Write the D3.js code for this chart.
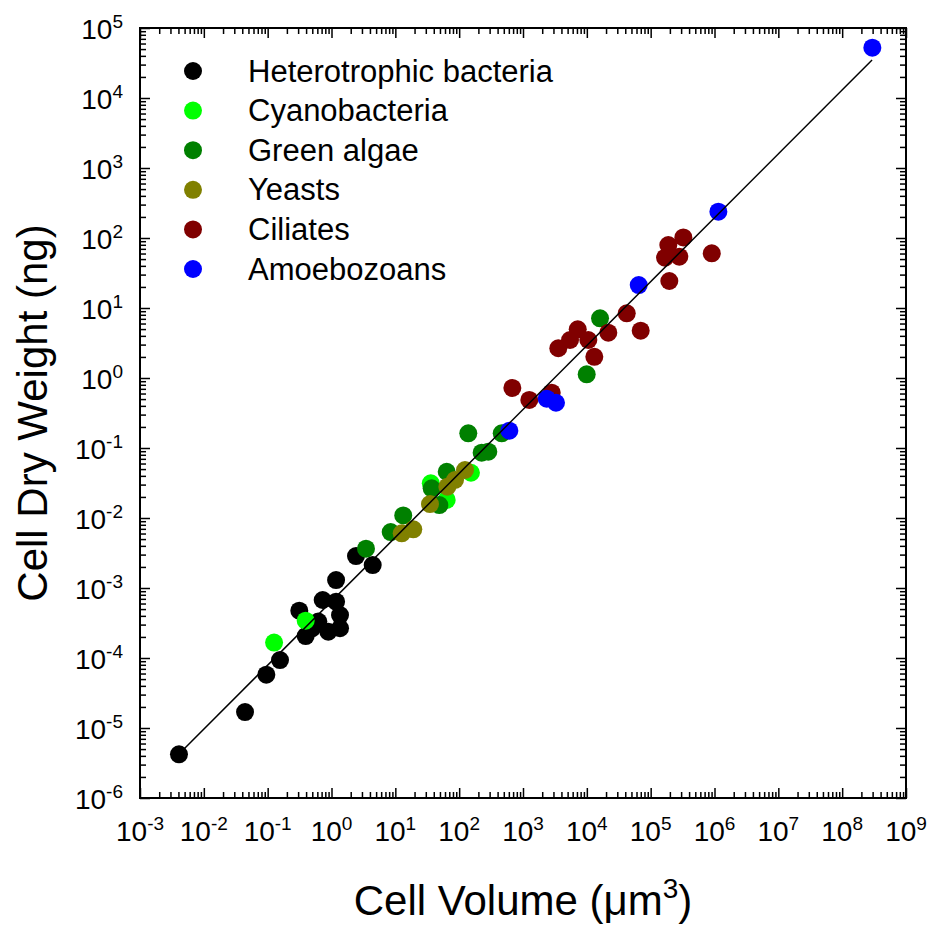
<!DOCTYPE html>
<head>
  <meta charset="utf-8">
  <style>
  body {
    margin: 0;
    background: #fff;
  }

  text {
    font-family: Arial, "Liberation Sans", sans-serif;
    fill: #000;
  }

  .frame {
    fill: none;
    stroke: #000;
    stroke-width: 2px;
  }

  .tick line {
    stroke: #000;
    stroke-width: 1.5px;
  }

  .fit {
    fill: none;
    stroke: #000;
    stroke-width: 1.5px;
  }
</style>
</head>
<svg class="chart" width="932" height="926"></svg>

<script src="https://d3js.org/d3.v7.min.js"></script>
<script>
// groups, in drawing order
var groupNames = ["Heterotrophic bacteria", "Cyanobacteria", "Green algae", "Yeasts", "Ciliates", "Amoebozoans"];
var groupColors = ["#000000", "#00ff00", "#008000", "#808000", "#800000", "#0000ff"];

// cell volume (um^3) and cell dry weight (ng)
var bacteriaVol = [0.00408, 0.0442, 0.0953, 0.156, 0.313, 0.394, 0.495, 0.622, 0.728, 0.891, 1.18, 1.18, 1.36, 1.36, 2.42, 4.42];
var bacteriaDW = [4.2e-6, 1.69e-5, 5.77e-5, 9.35e-5, 4.74e-4, 2.06e-4, 2.65e-4, 3.31e-4, 6.74e-4, 2.38e-4, 1.30e-3, 6.37e-4, 4.11e-4, 2.66e-4, 2.86e-3, 2.13e-3];

var cyanoVol = [0.126, 0.394, 35.9, 63.8, 153];
var cyanoDW = [1.66e-4, 3.41e-4, 0.0313, 0.0181, 0.0443];

var algaeVol = [3.47, 8.46, 13.3, 37.1, 48.9, 63.8, 139, 225, 286, 464, 9950, 16100];
var algaeDW = [3.65e-3, 6.3e-3, 0.0109, 0.0265, 0.0153, 0.0458, 0.162, 0.0857, 0.0885, 0.162, 1.13, 7.13];

var yeastVol = [12.6, 19.1, 34.9, 65.3, 86.1, 123.5];
var yeastDW = [6.04e-3, 6.9e-3, 0.0158, 0.028, 0.0349, 0.0485];

var ciliateVol = [681, 1256, 2818, 3574, 5455, 7200, 10550, 13100, 21700, 42200, 69800, 168000, 189000, 196000, 281000, 325000, 906000];
var ciliateDW = [0.72, 0.486, 0.616, 2.66, 3.49, 4.96, 3.49, 2.01, 4.44, 8.4, 4.74, 52.3, 79.4, 24.3, 54.1, 102, 60.4];

var amoebaVol = [611, 2350, 3290, 65000, 1.15e6, 2.97e8];
var amoebaDW = [0.177, 0.506, 0.443, 21.3, 238, 52300];

// fitted line end points
var fitVol = [4.08e-3, 2.94e8];
var fitDW = [4.26e-6, 3.49e4];

// decade exponents used as tick labels
var xExponents = [-3, -2, -1, 0, 1, 2, 3, 4, 5, 6, 7, 8, 9];
var yExponents = [-6, -5, -4, -3, -2, -1, 0, 1, 2, 3, 4, 5];

var groupVols = [bacteriaVol, cyanoVol, algaeVol, yeastVol, ciliateVol, amoebaVol];
var groupDWs = [bacteriaDW, cyanoDW, algaeDW, yeastDW, ciliateDW, amoebaDW];

var svg = d3.select("svg"),
  plotL = 140, plotR = 906, plotT = 28, plotB = 798;

var x = d3.scaleLog().domain([1e-3, 1e9]).range([plotL, plotR]),
  y = d3.scaleLog().domain([1e-6, 1e5]).range([plotB, plotT]);

function logTicks(exps) {
  var t = [];
  exps.forEach(function(e, i) {
    if (i === exps.length - 1) { t.push(Math.pow(10, e)); return; }
    for (var m = 1; m < 10; m++) t.push(m * Math.pow(10, e));
  });
  return t;
}
function isMajor(d) {
  var l = Math.log10(d);
  return Math.abs(l - Math.round(l)) < 1e-9;
}

var xTickVals = logTicks(xExponents),
  yTickVals = logTicks(yExponents);

function styleTicks(g, sign, horiz) {
  g.select(".domain").remove();
  g.selectAll(".tick text").remove();
  g.selectAll(".tick line").each(function(d) {
    var len = (isMajor(d) ? 10 : 6) * sign;
    d3.select(this).attr(horiz ? "y2" : "x2", len);
  });
}

svg.append("g")
  .attr("transform", "translate(0," + plotB + ")")
  .call(d3.axisBottom(x).tickValues(xTickVals).tickFormat(""))
  .call(styleTicks, -1, true);

svg.append("g")
  .attr("transform", "translate(0," + plotT + ")")
  .call(d3.axisTop(x).tickValues(xTickVals).tickFormat(""))
  .call(styleTicks, 1, true);

svg.append("g")
  .attr("transform", "translate(" + plotL + ",0)")
  .call(d3.axisLeft(y).tickValues(yTickVals).tickFormat(""))
  .call(styleTicks, 1, false);

svg.append("g")
  .attr("transform", "translate(" + plotR + ",0)")
  .call(d3.axisRight(y).tickValues(yTickVals).tickFormat(""))
  .call(styleTicks, -1, false);

svg.append("rect")
  .attr("class", "frame")
  .attr("x", plotL)
  .attr("y", plotT)
  .attr("width", plotR - plotL)
  .attr("height", plotB - plotT);

// tick labels: 10 with superscript exponent
function powerLabel(sel) {
  sel.append("tspan").text("10");
  sel.append("tspan")
    .attr("dy", -11)
    .style("font-size", "19px")
    .text(function(e) { return e; });
}

svg.append("g").selectAll("text")
  .data(xExponents)
  .enter()
  .append("text")
  .attr("x", function(e) { return x(Math.pow(10, e)); })
  .attr("y", 841)
  .attr("text-anchor", "middle")
  .style("font-size", "28px")
  .call(powerLabel);

svg.append("g").selectAll("text")
  .data(yExponents)
  .enter()
  .append("text")
  .attr("x", 123)
  .attr("y", function(e) { return y(Math.pow(10, e)) + 11; })
  .attr("text-anchor", "end")
  .style("font-size", "28px")
  .call(powerLabel);

// axis titles
svg.append("text")
  .attr("x", (plotL + plotR) / 2)
  .attr("y", 915)
  .attr("text-anchor", "middle")
  .style("font-size", "42px")
  .text("Cell Volume (")
  .call(function(t) {
    t.append("tspan").text("\u03bcm");
    t.append("tspan").attr("dy", -17).style("font-size", "28px").text("3");
    t.append("tspan").attr("dy", 17).text(")");
  });

svg.append("text")
  .attr("transform", "translate(47," + (plotT + plotB) / 2 + ") rotate(-90)")
  .attr("text-anchor", "middle")
  .style("font-size", "42px")
  .text("Cell Dry Weight (ng)");

// points
var points = [];
groupVols.forEach(function(vols, i) {
  vols.forEach(function(v, j) {
    points.push({ group: i, vol: v, dw: groupDWs[i][j] });
  });
});

svg.append("g").selectAll("circle")
  .data(points)
  .enter()
  .append("circle")
  .attr("cx", function(d) { return x(d.vol); })
  .attr("cy", function(d) { return y(d.dw); })
  .attr("r", 9)
  .style("fill", function(d) { return groupColors[d.group]; });

// fit line on top
var line = d3.line()
  .x(function(d) { return x(d[0]); })
  .y(function(d) { return y(d[1]); });

svg.append("path")
  .attr("class", "fit")
  .attr("d", line(d3.zip(fitVol, fitDW)));

// legend
var legend = svg.append("g").selectAll("g")
  .data(groupNames)
  .enter()
  .append("g")
  .attr("transform", function(d, i) { return "translate(193," + (71 + i * 39.6) + ")"; });

legend.append("circle")
  .attr("r", 9)
  .style("fill", function(d, i) { return groupColors[i]; });

legend.append("text")
  .attr("x", 55)
  .attr("y", 10.5)
  .style("font-size", "31px")
  .text(function(d) { return d; });
</script>
